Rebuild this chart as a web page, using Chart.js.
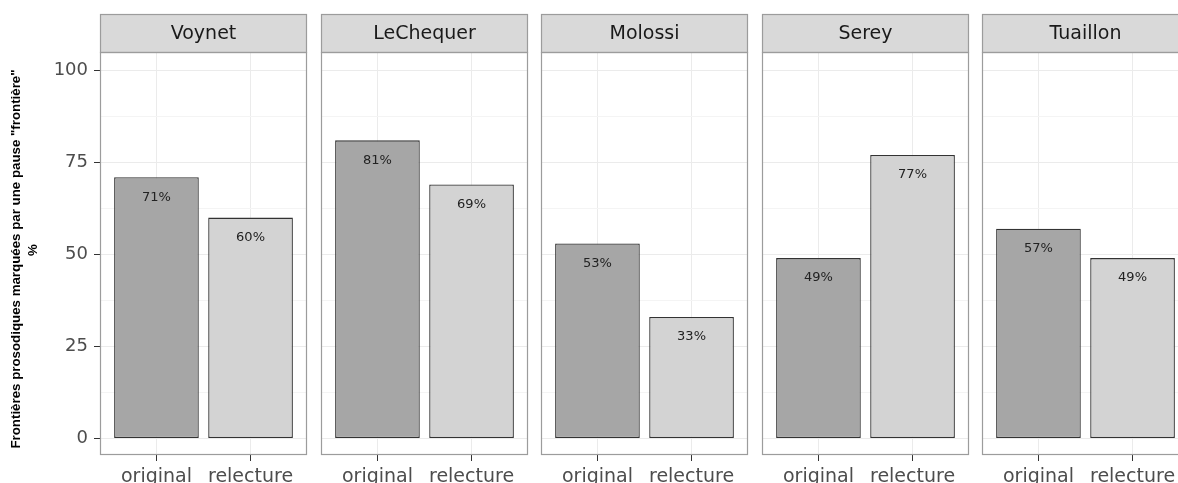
<!DOCTYPE html>
<html>
<head>
<meta charset="utf-8">
<script src="https://cdn.jsdelivr.net/npm/chart.js@4.4.1/dist/chart.umd.min.js"></script>
<style>
  html, body { margin: 0; padding: 0; background: #fff; overflow: hidden; width: 1178px; height: 483px; }
  canvas { position: absolute; top: 0; }
</style>
</head>
<body>
<script>
// data
const speakers = ['Voynet', 'LeChequer', 'Molossi', 'Serey', 'Tuaillon'];
const versions = ['original', 'relecture'];
const originalPct = [71, 81, 53, 49, 57];
const relecturePct = [60, 69, 33, 77, 49];
const yMajor = [0, 25, 50, 75, 100];
const yTitle = ['Frontières prosodiques marquées par une pause "frontière"', '%'];

const series = [originalPct, relecturePct];
const fills = ['#a6a6a6', '#d3d3d3'];
const yGrid = [];
yMajor.forEach((v, k) => {
  yGrid.push(v);
  if (k < yMajor.length - 1) yGrid.push((v + yMajor[k + 1]) / 2);
});

Chart.defaults.font.family = 'DejaVu Sans';

// strip on top of each panel, panel border, % labels inside the bars
const facetPlugin = {
  id: 'facet',
  afterDatasetsDraw(chart) {
    const ctx = chart.ctx;
    const meta = chart.getDatasetMeta(0);
    const vals = chart.data.datasets[0].data;
    ctx.save();
    ctx.font = '13px "DejaVu Sans"';
    ctx.fillStyle = '#222';
    ctx.textAlign = 'center';
    ctx.textBaseline = 'middle';
    meta.data.forEach((bar, k) => {
      ctx.fillText(vals[k].y + '%', bar.x, bar.y + 20);
    });
    ctx.restore();
  },
  afterDraw(chart, args, opts) {
    const { ctx, chartArea: a } = chart;
    const top = 14;
    ctx.save();
    ctx.fillStyle = '#d9d9d9';
    ctx.fillRect(a.left, top, a.right - a.left, a.top - top);
    ctx.strokeStyle = '#9c9c9c';
    ctx.lineWidth = 1.2;
    ctx.strokeRect(a.left + 0.5, top + 0.5, a.right - a.left - 1, a.top - top);
    ctx.strokeRect(a.left + 0.5, a.top + 0.5, a.right - a.left - 1, a.bottom - a.top - 1);
    ctx.fillStyle = '#1a1a1a';
    ctx.font = '19px "DejaVu Sans"';
    ctx.textAlign = 'center';
    ctx.textBaseline = 'middle';
    ctx.fillText(opts.name, (a.left + a.right) / 2, (top + a.top) / 2 + 1);

    // shared y-axis title, only on the first panel
    if (opts.yTitle) {
      ctx.fillStyle = '#000';
      ctx.font = 'bold 13.3px "Liberation Sans"';
      ctx.translate(16.5, 259);
      ctx.rotate(-Math.PI / 2);
      ctx.fillText(opts.yTitle[0], 0, 0);
      ctx.fillText(opts.yTitle[1], 9, 17);
    }
    ctx.restore();
  }
};

speakers.forEach((name, i) => {
  const first = i === 0;
  const panelLeft = Math.round(100 + i * 220.5);
  const axisW = first ? 100 : 7;
  const cv = document.createElement('canvas');
  cv.width = axisW + 207 + 7;
  cv.height = 483;
  cv.style.left = (panelLeft - axisW) + 'px';
  document.body.appendChild(cv);

  new Chart(cv, {
    type: 'bar',
    data: {
      datasets: [{
        data: versions.map((v, k) => ({ x: k + 1, y: series[k][i] })),
        backgroundColor: fills,
        borderColor: '#333333',
        borderWidth: 1.3,
        borderSkipped: false,
        categoryPercentage: 1,
        barPercentage: 0.9
      }]
    },
    options: {
      responsive: false,
      animation: false,
      layout: { padding: { top: 52, left: first ? 0 : 7, right: 7, bottom: 0 } },
      plugins: {
        legend: { display: false },
        tooltip: { enabled: false },
        facet: { name: name, yTitle: first ? yTitle : null }
      },
      scales: {
        x: {
          type: 'linear',
          min: 0.4,
          max: 2.6,
          offset: false,
          afterBuildTicks: s => { s.ticks = versions.map((v, k) => ({ value: k + 1 })); },
          afterFit: s => { s.height = 28; },
          border: { display: false },
          grid: { offset: false, color: '#ebebeb', tickColor: '#333', tickLength: 6 },
          ticks: {
            callback: v => versions[v - 1],
            color: '#4d4d4d',
            font: { size: 19 },
            padding: 5,
            maxRotation: 0,
            autoSkip: false
          }
        },
        y: {
          min: -4.5,
          max: 105,
          afterBuildTicks: s => { s.ticks = yGrid.map(v => ({ value: v })); },
          afterFit: s => { s.width = first ? 100 : 0; },
          border: { display: false },
          grid: {
            color: c => (yMajor.includes(c.tick.value) ? '#ebebeb' : '#f4f4f4'),
            tickColor: c => (yMajor.includes(c.tick.value) ? '#333' : 'rgba(0,0,0,0)'),
            tickLength: 6,
            drawTicks: first
          },
          ticks: {
            display: first,
            callback: v => (yMajor.includes(v) ? v : ''),
            color: '#4d4d4d',
            font: { size: 18 },
            padding: 6
          }
        }
      }
    },
    plugins: [facetPlugin]
  });
});
</script>
</body>
</html>
